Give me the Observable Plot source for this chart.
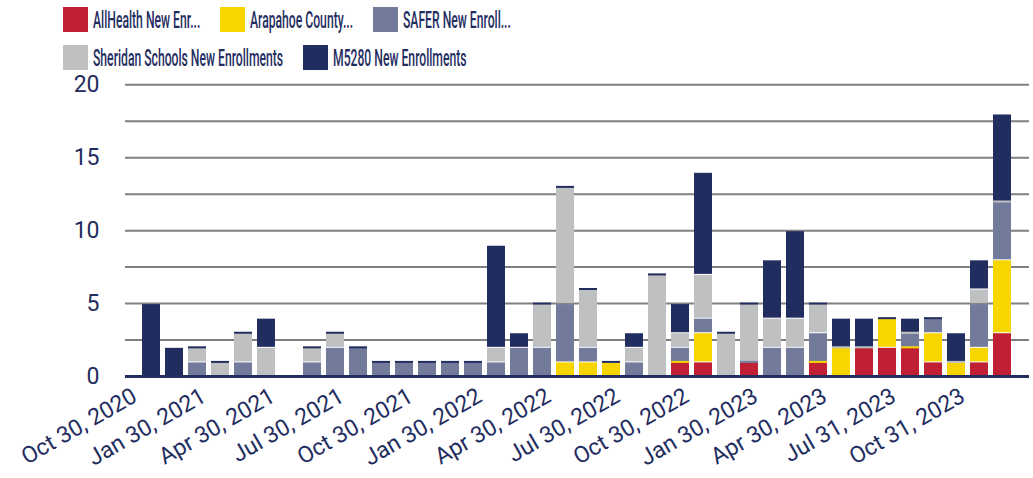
<!DOCTYPE html>
<html><head><meta charset="utf-8">
<script src="https://cdn.jsdelivr.net/npm/d3@7"></script>
<script src="https://cdn.jsdelivr.net/npm/@observablehq/plot@0.6"></script>
<style>
body{margin:0;background:#fff;font-family:Roboto,sans-serif;}
#legend{height:76px;box-sizing:border-box;padding:7px 0 0 63px;color:#1f2d5f;}
.row{display:flex;align-items:center;height:25px;margin-bottom:13px;gap:20px}
.item{display:flex;align-items:center;height:25px}
.sw{width:25px;height:25px;margin-right:5px;flex:none}
.wrap{overflow:visible;height:25px;display:flex;align-items:center}
.lab{display:inline-block;white-space:nowrap;font-size:24px;font-weight:500;transform-origin:0 50%;}
</style></head><body><div id="legend"></div><div id="chart"></div>
<script>
const months = ["Oct 2020","Nov 2020","Dec 2020",
  "Jan 2021","Feb 2021","Mar 2021","Apr 2021","May 2021","Jun 2021","Jul 2021","Aug 2021","Sep 2021","Oct 2021","Nov 2021","Dec 2021",
  "Jan 2022","Feb 2022","Mar 2022","Apr 2022","May 2022","Jun 2022","Jul 2022","Aug 2022","Sep 2022","Oct 2022","Nov 2022","Dec 2022",
  "Jan 2023","Feb 2023","Mar 2023","Apr 2023","May 2023","Jun 2023","Jul 2023","Aug 2023","Sep 2023","Oct 2023","Nov 2023"];
const tickLabels = ["Oct 30, 2020","Jan 30, 2021","Apr 30, 2021","Jul 30, 2021","Oct 30, 2021","Jan 30, 2022","Apr 30, 2022","Jul 30, 2022","Oct 30, 2022","Jan 30, 2023","Apr 30, 2023","Jul 31, 2023","Oct 31, 2023"];
const seriesNames = ["AllHealth New Enr...","Arapahoe County...","SAFER New Enroll...","Sheridan Schools New Enrollments","M5280 New Enrollments"];
const seriesColors = ["#c02034","#f9d500","#737b9c","#bfc0c2","#212d5f"];
const yTicks = [0,5,10,15,20];
const gridValues = [2.5,5,7.5,10,12.5,15,17.5,20];
const n = null;
const allHealth = [n,n,n,n,n,n,n,n,n,n,n,n,n,n,n,n,n,n,n,n,n,n,n,1,1,n,1,n,n,1,n,2,2,2,1,n,1,3];
const arapahoe  = [n,n,n,n,n,n,n,n,n,n,n,n,n,n,n,n,n,n,1,1,1,n,n,0,2,n,n,n,n,0,2,n,2,0,2,1,1,5];
const safer     = [n,n,1,n,1,n,n,1,2,2,1,1,1,1,1,1,2,2,4,1,n,1,n,1,1,n,0,2,2,2,n,n,n,1,1,n,3,4];
const sheridan  = [n,n,1,1,2,2,n,1,1,n,n,n,n,n,n,1,n,3,8,4,n,1,7,1,3,3,4,2,2,2,0,0,n,0,n,0,1,0];
const m5280     = [5,2,0,0,0,2,n,0,0,0,0,0,0,0,0,7,1,0,0,0,0,1,0,2,7,0,0,4,6,0,2,2,0,1,0,2,2,6];

const seriesData = [allHealth, arapahoe, safer, sheridan, m5280];
const rows = [];
seriesNames.forEach((s, j) => months.forEach((m, i) => {
  const v = seriesData[j][i];
  if (v != null) rows.push({month: m, series: s, v});
}));
const tickMonths = months.filter((_, i) => i % 3 === 0);
const tickLabel = new Map(tickMonths.map((m, i) => [m, tickLabels[i]]));

// legend
const legend = document.getElementById("legend");
[[0,1,2],[3,4]].forEach(idxs => {
  const row = document.createElement("div"); row.className = "row";
  idxs.forEach(i => {
    const it = document.createElement("div"); it.className = "item";
    const sw = document.createElement("div"); sw.className = "sw"; sw.style.background = seriesColors[i];
    const wrap = document.createElement("div"); wrap.className = "wrap";
    const lab = document.createElement("span"); lab.className = "lab"; lab.textContent = seriesNames[i];
    wrap.appendChild(lab); it.appendChild(sw); it.appendChild(wrap); row.appendChild(it);
  });
  legend.appendChild(row);
});
const labs = [...document.querySelectorAll(".lab")];
const k = 190 / labs[3].offsetWidth; // condensed legend text
labs.forEach(lab => {
  lab.style.transform = `scaleX(${k})`;
  lab.parentNode.style.width = (lab.offsetWidth * k) + "px";
});

const chart = Plot.plot({
  width: 1033, height: 402,
  marginLeft: 125, marginRight: 4, marginTop: 8.3, marginBottom: 102,
  style: {fontFamily: "Roboto, sans-serif", fontSize: "23px", color: "#1f2d5f", background: "white", overflow: "visible"},
  x: {domain: months, paddingInner: 0.2, paddingOuter: 0.15, label: null, axis: null},
  y: {domain: [0, 20], label: null},
  color: {domain: seriesNames, range: seriesColors},
  marks: [
    Plot.ruleY(gridValues, {stroke: "#808080", strokeWidth: 2}),
    Plot.barY(rows.filter(d => d.v > 0), Plot.stackY({x: "month", y: "v", fill: "series", insetTop: 1})),
    Plot.tickY(rows, Plot.stackY2({x: "month", y: "v", stroke: "series", strokeWidth: 2, strokeOpacity: d => d.v === 0 ? 1 : 0})),
    Plot.ruleY([0], {stroke: "#212d5f", strokeWidth: 3}),
    Plot.axisY({ticks: yTicks, tickSize: 0, tickPadding: 26, fontSize: 23, label: null}),
    Plot.text(tickMonths, {x: d => d, text: d => tickLabel.get(d), frameAnchor: "bottom", rotate: -30, textAnchor: "end", lineAnchor: "bottom", dx: -13, dy: 24, fontSize: 23, fill: "currentColor"})
  ]
});
document.getElementById("chart").appendChild(chart);
</script></body></html>
